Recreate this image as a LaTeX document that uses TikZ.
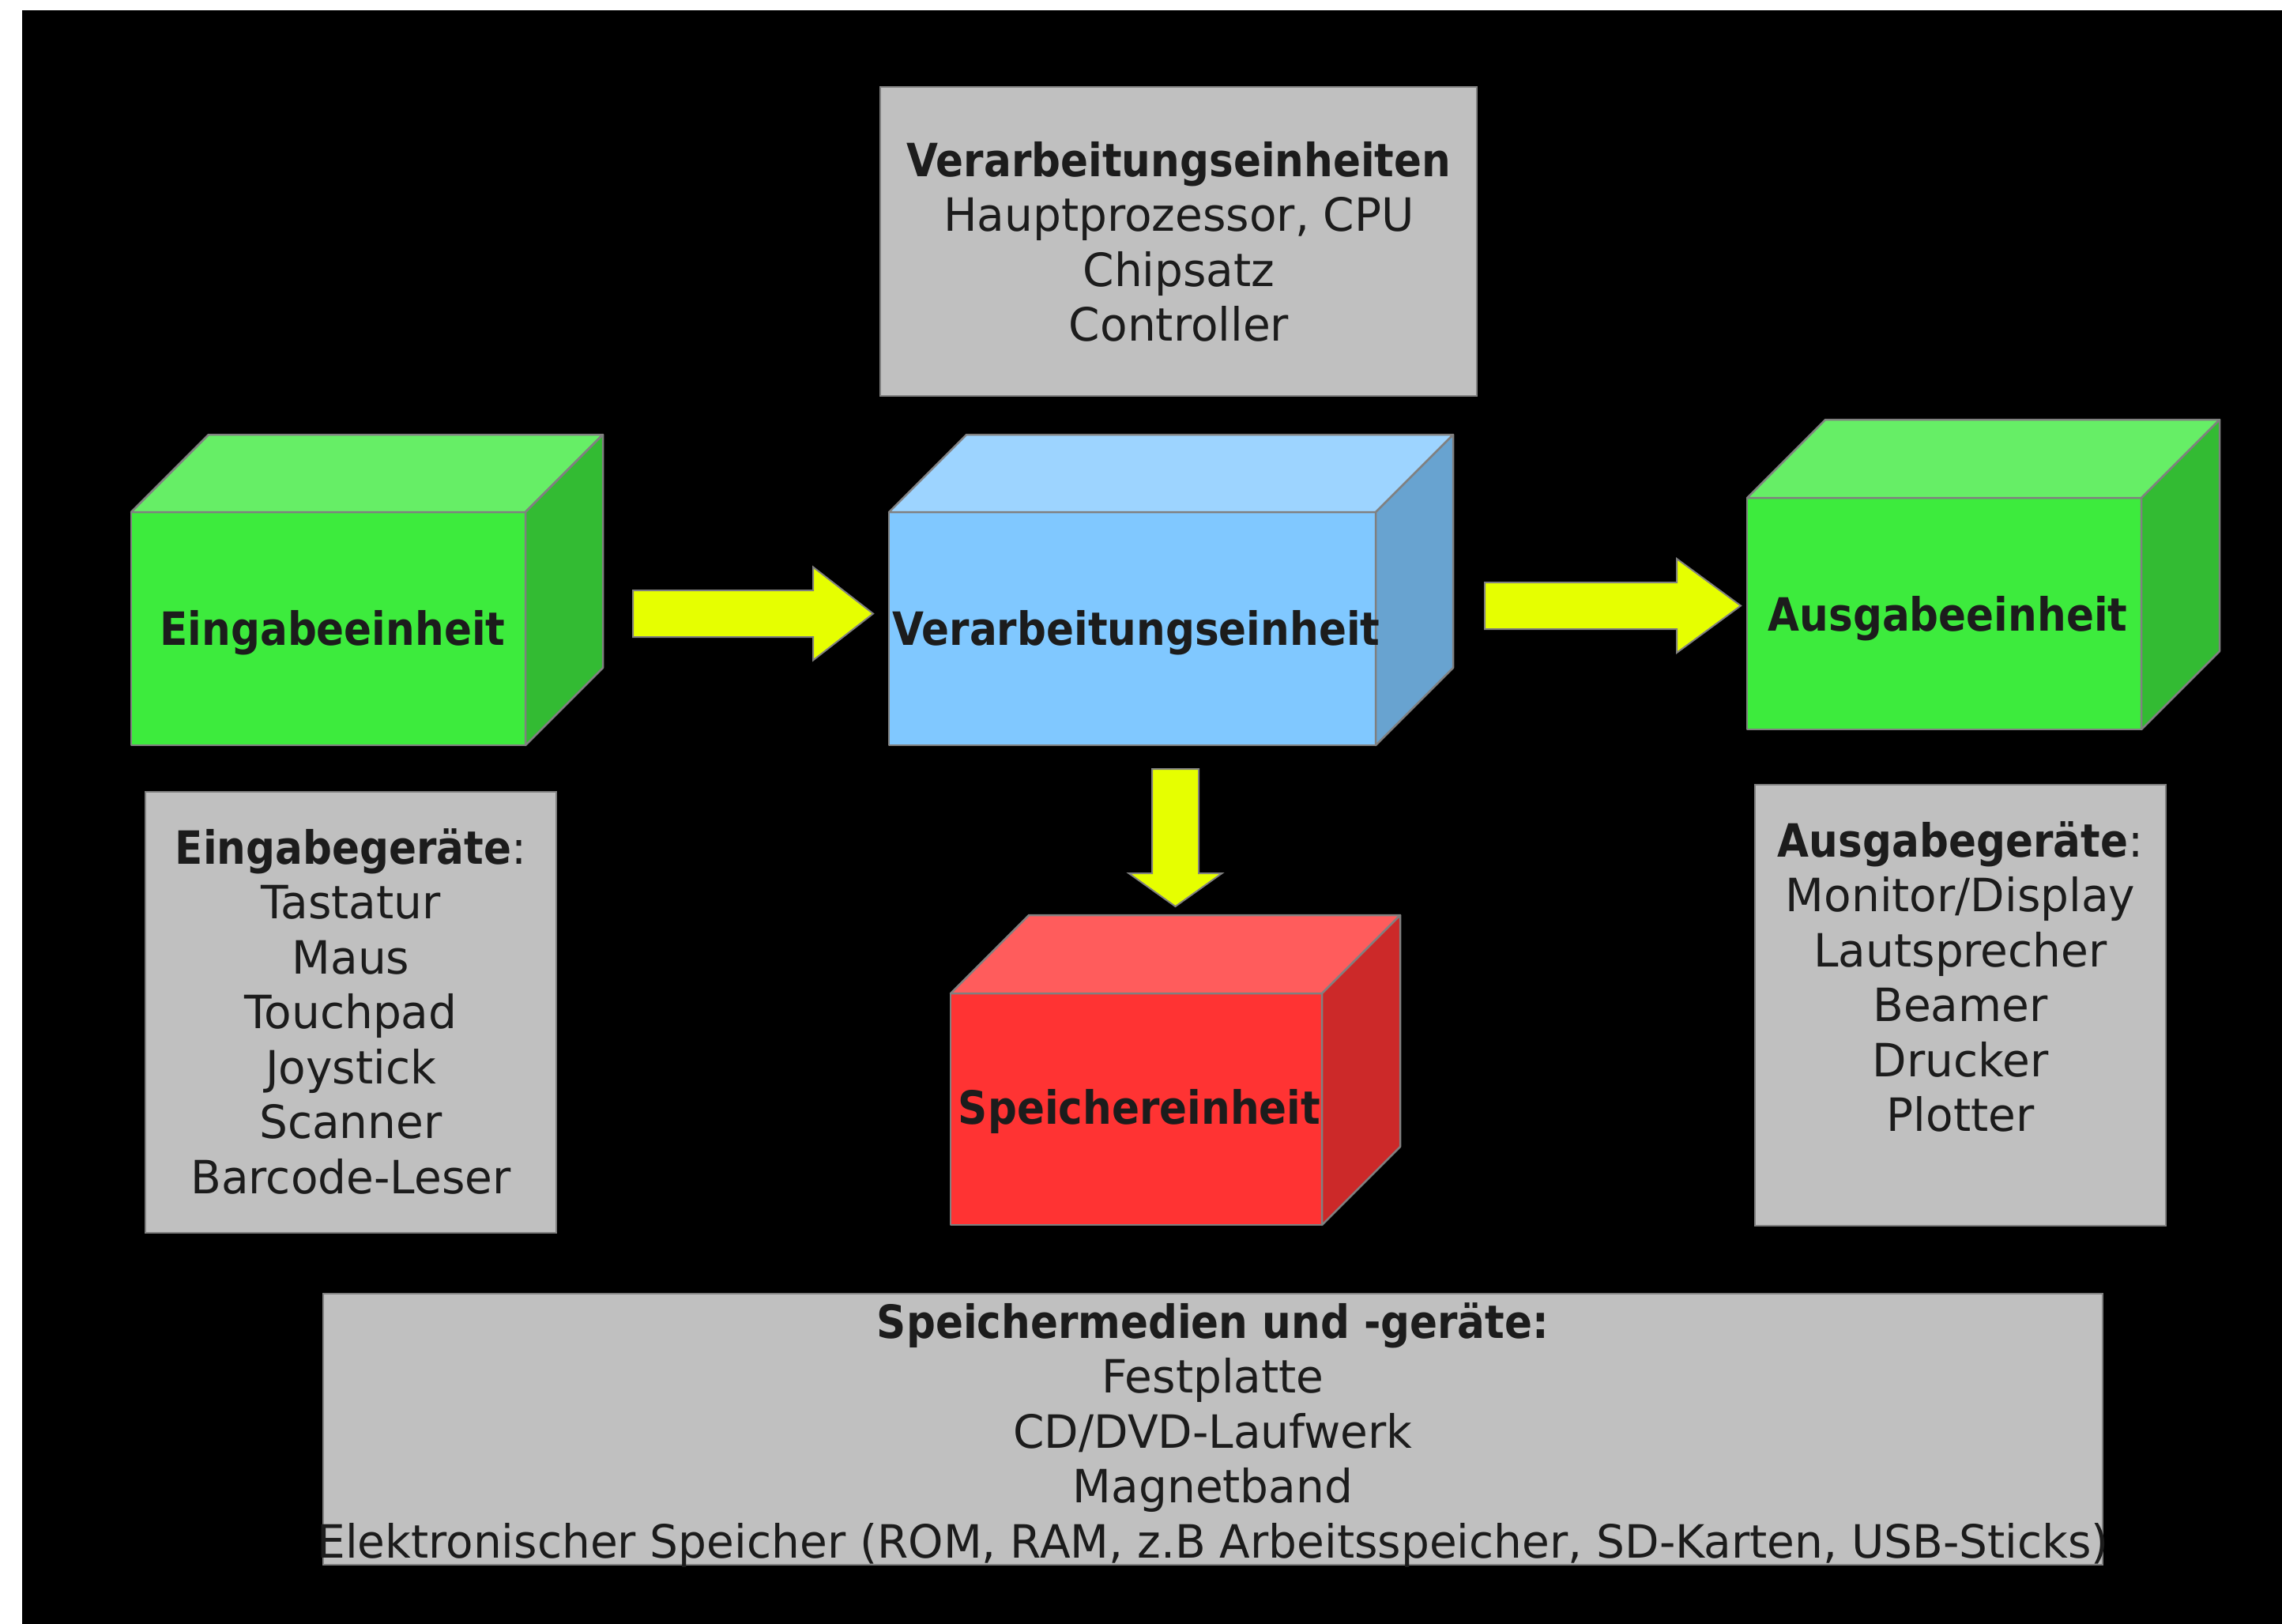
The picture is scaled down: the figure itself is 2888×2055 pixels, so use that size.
\documentclass[tikz,border=0pt]{standalone}
\usepackage{fontspec}
\setmainfont{DejaVu Sans}[FakeStretch=0.975]
\newfontfamily\boldf{DejaVu Sans Bold}[FakeStretch=0.89]
\usetikzlibrary{calc}
\definecolor{grnF}{RGB}{61,235,61}
\definecolor{grnT}{RGB}{102,238,102}
\definecolor{grnS}{RGB}{51,187,51}
\definecolor{bluF}{RGB}{128,200,255}
\definecolor{bluT}{RGB}{157,212,255}
\definecolor{bluS}{RGB}{104,163,208}
\definecolor{redF}{RGB}{255,51,51}
\definecolor{redT}{RGB}{255,92,92}
\definecolor{redS}{RGB}{204,41,41}
\definecolor{yel}{RGB}{230,255,0}
\definecolor{boxgray}{RGB}{192,192,192}
\definecolor{edge}{RGB}{128,128,128}
\definecolor{ink}{RGB}{28,28,28}
\tikzset{
  face/.style={draw=edge, line width=2.5pt, line join=round},
  frontface/.style={face, rectangle, inner sep=0pt, outer sep=0pt, anchor=north west},
  graybox/.style={draw=edge, line width=2.5pt, fill=boxgray, rectangle, inner sep=0pt, outer sep=0pt, anchor=north west},
  txt/.style={text=ink, font=\fontsize{58}{69.5}\selectfont, inner sep=0pt, align=center, anchor=north},
  lbl/.style={text=ink, font=\fontsize{58}{69.5}\selectfont\boldf, inner sep=0pt, anchor=base},
  blockarrow/.style={draw=edge, line width=2pt, fill=yel, line join=miter},
}
% name, x, y, width, height, depth, colour prefix
\newcommand\mycube[7]{%
  \node[frontface, fill=#7F, minimum width=#4pt, minimum height=#5pt] (#1) at (#2,#3) {};
  \draw[face, fill=#7T] (#1.north west) -- ++(#6,-#6) -- ++(#4,0) -- (#1.north east) -- cycle;
  \draw[face, fill=#7S] (#1.north east) -- ++(#6,-#6) -- ++(0,#5) -- (#1.south east) -- cycle;
}
% start, end, shaft half width, head half width, head length
\newcommand\rblockarrow[5]{%
  \draw[blockarrow] ($(#1)+(0,-#3)$) -- ($(#2)+(-#5,-#3)$) -- ($(#2)+(-#5,-#4)$) -- (#2)
    -- ($(#2)+(-#5,#4)$) -- ($(#2)+(-#5,#3)$) -- ($(#1)+(0,#3)$) -- cycle;
}
\begin{document}
\begin{tikzpicture}[x=1pt,y=-1pt]
\useasboundingbox (0,0) rectangle (2888,2055);
\fill[white] (0,0) rectangle (2888,2055);
\fill[black] (28,13) rectangle (2888,2055);

% gray description boxes
\node[graybox, minimum width=755pt, minimum height=391pt] (vbox) at (1114,110) {};
\node[txt] (vtxt) at (1492,176) {\rule{0pt}{47pt}{\boldf Verarbeitungseinheiten}\\Hauptprozessor, CPU\\Chipsatz\\Controller};

\node[graybox, minimum width=520pt, minimum height=558pt] (ebox) at (184,1002) {};
\node[txt] (etxt) at (444,1046) {\rule{0pt}{47pt}{\boldf Eingabegeräte}:\\Tastatur\\Maus\\Touchpad\\Joystick\\Scanner\\Barcode-Leser};

\node[graybox, minimum width=520pt, minimum height=558pt] (abox) at (2221,993) {};
\node[txt] (atxt) at (2481,1037) {\rule{0pt}{47pt}{\boldf Ausgabegeräte}:\\Monitor/Display\\Lautsprecher\\Beamer\\Drucker\\Plotter};

\node[graybox, minimum width=2252pt, minimum height=343pt] (sbox) at (409,1637) {};
\node[txt] (stxt) at (1535,1646) {\rule{0pt}{47pt}{\boldf Speichermedien und -geräte:}\\Festplatte\\CD/DVD-Laufwerk\\Magnetband\\Elektronischer Speicher (ROM, RAM, z.B Arbeitsspeicher, SD-Karten, USB-Sticks)};

% cubes
\mycube{ein}{166}{648}{499}{295}{98}{grn}
\mycube{ver}{1125}{648}{616}{295}{98}{blu}
\mycube{aus}{2211}{630}{499}{293}{99}{grn}
\mycube{spe}{1203}{1257}{470}{293}{99}{red}

\node[lbl] (einL) at (421,816) {Eingabeeinheit};
\node[lbl] (verL) at (1438,816) {Verarbeitungseinheit};
\node[lbl] (ausL) at (2465,798) {Ausgabeeinheit};
\node[lbl] (speL) at (1442,1422) {Speichereinheit};

% block arrows
\coordinate (a1s) at ($(ein.east)+(136,-19)$);
\coordinate (a1e) at ($(ver.west)+(-20,-19)$);
\coordinate (a2s) at ($(ver.east)+(138,-29)$);
\coordinate (a2e) at ($(aus.west)+(-8,-10)$);
\coordinate (a3s) at ($(ver.south)+(54.5,30)$);
\coordinate (a3e) at ($(spe.north)+(49.5,-110)$);
\rblockarrow{a1s}{a1e}{29.5}{59}{76}
\rblockarrow{a2s}{a2e}{29.5}{59.5}{81}
\draw[blockarrow] ($(a3s)+(-29.5,0)$) -- ($(a3e)+(-29.5,-42)$) -- ($(a3e)+(-59,-42)$) -- (a3e)
  -- ($(a3e)+(59,-42)$) -- ($(a3e)+(29.5,-42)$) -- ($(a3s)+(29.5,0)$) -- cycle;
\end{tikzpicture}
\end{document}
